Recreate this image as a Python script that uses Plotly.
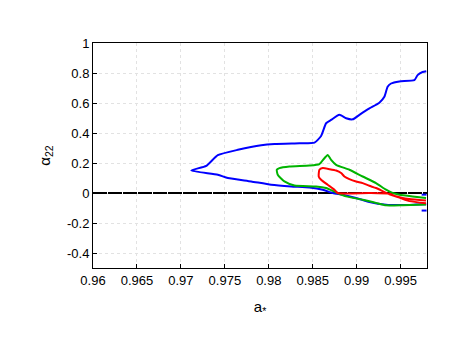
import plotly.graph_objects as go

# Contour curves (a*, alpha_22)
blue_x = [0.99792, 0.99750, 0.99693, 0.99656, 0.99485, 0.99391, 0.99352, 0.99315, 0.99258,
          0.99145, 0.99031, 0.98955, 0.98880, 0.98803, 0.98709, 0.98652, 0.98595, 0.98520,
          0.98349, 0.98065, 0.97914, 0.97648, 0.97420, 0.97289, 0.97118,
          0.97420, 0.97534, 0.97800, 0.98027, 0.98255, 0.98463, 0.98614, 0.98727,
          0.98841, 0.98993, 0.99144, 0.99334, 0.99523, 0.99675, 0.99792]
blue_y = [0.812, 0.807, 0.786, 0.752, 0.744, 0.730, 0.708, 0.641, 0.602,
          0.564, 0.521, 0.491, 0.498, 0.521, 0.487, 0.465, 0.380, 0.336,
          0.332, 0.327, 0.319, 0.288, 0.252, 0.181, 0.150,
          0.1215, 0.0996, 0.077, 0.055, 0.0438, 0.037, 0.022, 0.0,
          -0.011, -0.033, -0.060, -0.078, -0.080, -0.077, -0.075]

blue_stub1_x = [0.99739, 0.99795]
blue_stub1_y = [-0.011, -0.011]
blue_stub2_x = [0.99739, 0.99795]
blue_stub2_y = [-0.117, -0.117]

green_x = [0.99789, 0.99636, 0.99485, 0.99409, 0.99334, 0.99220, 0.99068, 0.98917,
           0.98766, 0.98709, 0.98670, 0.98633, 0.98576, 0.98463, 0.98235, 0.98121,
           0.98091, 0.98102, 0.98178, 0.98292, 0.98539, 0.98652, 0.98766, 0.98880,
           0.99068, 0.99220, 0.99334, 0.99523, 0.99789]
green_y = [-0.033, -0.0226, -0.011, 0.0, 0.022, 0.066, 0.110, 0.155,
           0.188, 0.221, 0.254, 0.232, 0.193, 0.183, 0.177, 0.166,
           0.155, 0.1215, 0.077, 0.050, 0.044, 0.033, 0.004, -0.0226,
           -0.0445, -0.066, -0.082, -0.081, -0.076]

red_x = [0.99789, 0.99599, 0.99523, 0.99372, 0.99220, 0.99144, 0.99068, 0.98993,
         0.98917, 0.98860, 0.98823, 0.98766, 0.98690, 0.98614, 0.98576, 0.98568,
         0.98595, 0.98670, 0.98747, 0.98784, 0.99144, 0.99372, 0.99448, 0.99599,
         0.99789]
red_y = [-0.050, -0.040, -0.034, -0.008, 0.033, 0.048, 0.066, 0.077,
         0.093, 0.110, 0.133, 0.150, 0.159, 0.166, 0.155, 0.110,
         0.088, 0.055, 0.022, 0.0, 0.0, -0.005, -0.0226, -0.054,
         -0.068]

zero_x = [0.96, 0.998]
zero_y = [0.0, 0.0]

x_ticks = [0.96, 0.965, 0.97, 0.975, 0.98, 0.985, 0.99, 0.995]
x_labels = ["0.96", "0.965", "0.97", "0.975", "0.98", "0.985", "0.99", "0.995"]
y_ticks = [-0.4, -0.2, 0, 0.2, 0.4, 0.6, 0.8, 1]
y_labels = ["-0.4", "-0.2", "0", "0.2", "0.4", "0.6", "0.8", "1"]

fig = go.Figure()
lw = 2
fig.add_trace(go.Scatter(x=zero_x, y=zero_y, mode="lines",
                         line=dict(color="black", width=2, dash="14px,1px")))
for xs, ys, col in [(blue_x, blue_y, "#0000ff"), (green_x, green_y, "#00b400"), (red_x, red_y, "#ff0000")]:
    fig.add_trace(go.Scatter(x=xs, y=ys, mode="lines",
                             line=dict(color=col, width=lw, shape="spline", smoothing=0.5)))
fig.add_trace(go.Scatter(x=blue_stub1_x, y=blue_stub1_y, mode="lines", line=dict(color="#0000ff", width=lw)))
fig.add_trace(go.Scatter(x=blue_stub2_x, y=blue_stub2_y, mode="lines", line=dict(color="#0000ff", width=lw)))

axis_common = dict(showline=True, linecolor="black", linewidth=1, mirror=True,
                   ticks="inside", ticklen=4, tickcolor="black",
                   showgrid=True, gridcolor="#e2e2e2", griddash="dot", gridwidth=1,
                   zeroline=False, tickfont=dict(family="Liberation Sans", size=13, color="black"))

fig.update_xaxes(range=[0.96, 0.998], tickvals=x_ticks, ticktext=x_labels,
                 title=dict(text="a<sub>*</sub>", font=dict(family="Liberation Sans", size=15, color="black"), standoff=14),
                 **axis_common)
fig.update_yaxes(range=[-0.5, 1.0], tickvals=y_ticks, ticktext=y_labels,
                 title=dict(text="α<sub>22</sub>", font=dict(family="Liberation Sans", size=15, color="black"), standoff=12),
                 **axis_common)

fig.update_layout(width=463, height=358, showlegend=False,
                  plot_bgcolor="white", paper_bgcolor="white",
                  margin=dict(l=85, r=44, t=35, b=98))

fig.write_html("out.html")
